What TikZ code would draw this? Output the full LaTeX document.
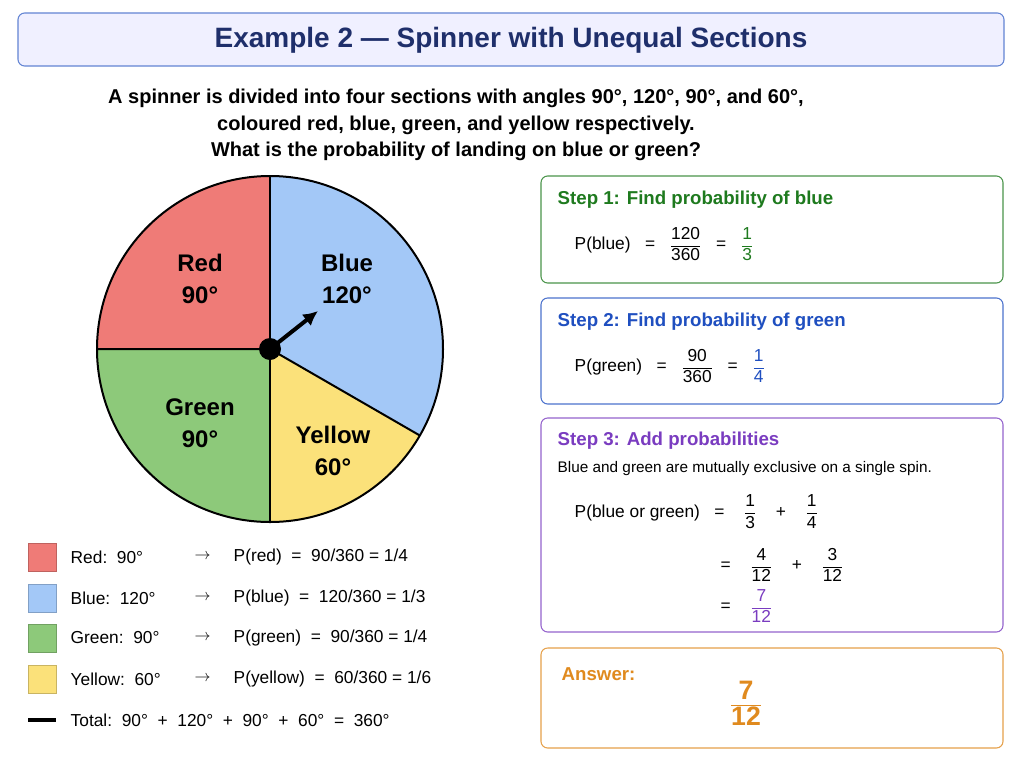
\documentclass[tikz,border=0pt]{standalone}
\usepackage{amsmath}
\usepackage{fontspec}
\setmainfont{Liberation Sans}
\usetikzlibrary{arrows.meta}
\definecolor{tnavy}{HTML}{1F2F6B}
\definecolor{cred}{HTML}{EF7B77}
\definecolor{cblue}{HTML}{A3C8F7}
\definecolor{cgreen}{HTML}{8DC97A}
\definecolor{cyel}{HTML}{FBE17A}
\definecolor{sgreen}{HTML}{1E7A1E}
\definecolor{sblue}{HTML}{1F4FC0}
\definecolor{spurp}{HTML}{7A3CC0}
\definecolor{sorange}{HTML}{E08A1E}
\newcommand{\fs}[1]{\fontsize{#1}{#1}\selectfont}
\newcommand{\fr}[2]{$\dfrac{\mbox{\fs{13}#1}}{\mbox{\fs{13}#2}}$}
\begin{document}
\begin{tikzpicture}[x=0.75pt,y=-0.75pt,
  box/.style={draw=#1, line width=0.8pt, rounded corners=5pt},
  lbl/.style={font=\fs{18}\bfseries, align=center},
  leg/.style={font=\fs{13}, anchor=west},
  sq/.style={draw=#1!80!black, fill=#1, line width=0.5pt},
  st/.style={font=\fs{14}\bfseries, anchor=west}]
\useasboundingbox (0,0) rectangle (1024,768);
\fill[white] (0,0) rectangle (1024,768);
\draw[box=sblue!70, fill=blue!6] (18,13) rectangle (1004,66);
\node[font=\fs{21}\bfseries, text=tnavy] (title) at (511,40) {Example 2 — Spinner with Unequal Sections};
\node[font=\fs{15}\bfseries, align=center] (q) at (456,125) {A spinner is divided into four sections with angles 90°, 120°, 90°, and 60°,\\[5pt] coloured red, blue, green, and yellow respectively.\\[5pt] What is the probability of landing on blue or green?};
% pie
\coordinate (c) at (270,349);
\begin{scope}[line width=1.5pt]
\fill[cred] (c) -- (270,176) arc[start angle=-90,end angle=-180,radius=173] -- cycle;
\fill[cblue] (c) -- (270,176) arc[start angle=-90,end angle=30,radius=173] -- cycle;
\fill[cyel] (c) -- ++(30:173) arc[start angle=30,end angle=90,radius=173] -- cycle;
\fill[cgreen] (c) -- (270,522) arc[start angle=90,end angle=180,radius=173] -- cycle;
\draw (c) circle[radius=173];
\draw (270,176) -- (270,522);
\draw (97,349) -- (c) -- ++(30:173);
\end{scope}
\node[lbl] (lr) at (200,279) {Red\\[6pt]90°};
\node[lbl] (lb) at (347,279) {Blue\\[6pt]120°};
\node[lbl] (lg) at (200,423) {Green\\[6pt]90°};
\node[lbl] (ly) at (333,451) {Yellow\\[6pt]60°};
\coordinate (tip) at (318,311);
\draw[line width=3pt,-{Latex[length=11pt,width=11pt]}] (c) -- (tip);
\fill (c) circle[radius=11];
% legend
\foreach \y/\col/\n/\a/\p/\v in {557/cred/Red/90°/red/{90/360 = 1/4},598/cblue/Blue/120°/blue/{120/360 = 1/3},638/cgreen/Green/90°/green/{90/360 = 1/4},679/cyel/Yellow/60°/yellow/{60/360 = 1/6}}{
  \draw[sq=\col] (28,\y-14) rectangle (56,\y+14);
  \node[leg] at (66,\y) {\n:\ \ \a};
  \node[leg] at (190,\y) {$\rightarrow$};
  \node[leg] at (229,\y) {P(\p)\ \ =\ \ \v};
}
\draw[line width=2.5pt] (28,720) -- (56,720);
\node[leg] (tot) at (66,720) {Total:\ \ 90°\ \ +\ \ 120°\ \ +\ \ 90°\ \ +\ \ 60°\ \ =\ \ 360°};
% step boxes
\draw[box=sgreen!80] (541,176) rectangle (1003,283);
\node[st, text=sgreen] (s1) at (553,200) {Step 1: Find probability of blue};
\node[leg] (e1) at (570,244) {P(blue)\ \ \ =\ \ \ \fr{120}{360}\ \ \ =\ \ \ \textcolor{sgreen}{\fr{1}{3}}};
\draw[box=sblue!80] (541,298) rectangle (1003,404);
\node[st, text=sblue] (s2) at (553,322) {Step 2: Find probability of green};
\node[leg] (e2) at (570,366) {P(green)\ \ \ =\ \ \ \fr{90}{360}\ \ \ =\ \ \ \textcolor{sblue}{\fr{1}{4}}};
\draw[box=spurp!80] (541,418) rectangle (1003,632);
\node[st, text=spurp] (s3) at (553,441) {Step 3: Add probabilities};
\node[font=\fs{11.5}, anchor=west] (n3) at (553,469) {Blue and green are mutually exclusive on a single spin.};
\node[leg] (e3a) at (570,512) {P(blue or green)\ \ \ =\ \ \ \ \fr{1}{3}\ \ \ \ +\ \ \ \ \fr{1}{4}};
\node[leg] (e3b) at (716,565) {=\ \ \ \ \fr{4}{12}\ \ \ \ +\ \ \ \ \fr{3}{12}};
\node[leg] (e3c) at (716,606) {=\ \ \ \ \textcolor{spurp}{\fr{7}{12}}};
\draw[box=sorange!80] (541,648) rectangle (1003,748);
\node[st, text=sorange] (s4) at (557,674) {Answer:};
\node[text=sorange] (ans) at (746,703) {$\dfrac{\mbox{\fs{20}\bfseries 7}}{\mbox{\fs{20}\bfseries 12}}$};
\end{tikzpicture}
\end{document}
